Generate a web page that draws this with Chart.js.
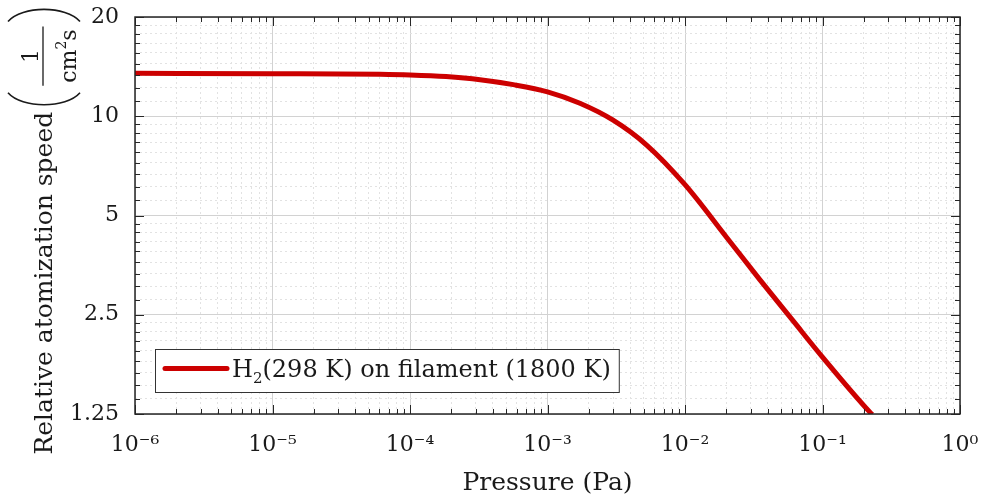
<!DOCTYPE html>
<html>
<head>
<meta charset="utf-8">
<script src="https://cdn.jsdelivr.net/npm/chart.js@4.4.1/dist/chart.umd.min.js"></script>
<style>
  body { margin: 0; background: #fff; }
  #wrap { width: 987px; height: 504px; }
</style>
</head>
<body>
<div id="wrap"><canvas id="c" width="987" height="504"></canvas></div>
<script>
// valori
const pressurePa = [1e-6, 1e-5, 6.05e-5, 1e-4, 1.83e-4, 3.23e-4, 5.64e-4, 1e-3, 1.72e-3, 3.0e-3, 5.26e-3, 1e-2, 2.01e-2, 3.51e-2, 6.14e-2, 1e-1, 0.221, 0.23];
const atomSpeed = [13.5, 13.46, 13.40, 13.34, 13.19, 12.91, 12.47, 11.86, 10.95, 9.73, 8.18, 6.20, 4.29, 3.19, 2.39, 1.86, 1.266, 1.245];

const xMajorTicks = [1e-6, 1e-5, 1e-4, 1e-3, 1e-2, 1e-1, 1];
const xTickLabels = ['10⁻⁶', '10⁻⁵', '10⁻⁴', '10⁻³', '10⁻²', '10⁻¹', '10⁰'];
const yMajorTicks = [1.25, 2.5, 5, 10, 20];
const yTickLabels = ['1.25', '2.5', '5', '10', '20'];

const seriesLabel = ['H', '2', '(298 K) on filament (1800 K)'];
const xTitle = 'Pressure (Pa)';
const yTitle = 'Relative atomization speed';

const FONT = '"DejaVu Serif", "Liberation Serif", serif';
const INK = '#1a1a1a';

// tacche minori: 2..9 per decade sull'asse x, 8 suddivisioni per ottava sull'asse y
const xMinorTicks = [];
for (let k = -6; k < 0; k++) {
    for (let m = 2; m <= 9; m++) xMinorTicks.push(m * Math.pow(10, k));
}
const yMinorTicks = [];
yMajorTicks.slice(0, -1).forEach(b => {
    for (let j = 1; j <= 8; j++) yMinorTicks.push(b * (1 + j / 9));
});

const setTicks = values => axis => { axis.ticks = values.map(v => ({ value: v })); };

// dimensione fissa dell'asse, senza padding extra per le etichette
const fixSize = (prop, size) => s => {
    s[prop] = size;
    s.paddingTop = 0; s.paddingBottom = 0; s.paddingLeft = 0; s.paddingRight = 0;
};

// cornice, tacche interne, legenda e titolo y
const framePlugin = {
    id: 'matlabFrame',
    afterDraw(chart) {
        const { ctx, chartArea: a, scales } = chart;
        ctx.save();
        ctx.strokeStyle = '#262626';
        ctx.lineWidth = 1;
        const line = (x1, y1, x2, y2) => { ctx.beginPath(); ctx.moveTo(x1, y1); ctx.lineTo(x2, y2); ctx.stroke(); };
        const inward = (scale, len, horiz) => {
            scale.ticks.forEach(t => {
                const p = Math.round(scale.getPixelForValue(t.value)) + 0.5;
                if (horiz) {
                    line(p, a.bottom, p, a.bottom - len);
                    line(p, a.top, p, a.top + len);
                } else {
                    line(a.left, p, a.left + len, p);
                    line(a.right, p, a.right - len, p);
                }
            });
        };
        inward(scales.x, 9, true);
        inward(scales.xm, 5, true);
        inward(scales.y, 9, false);
        inward(scales.ym, 5, false);
        ctx.lineWidth = 1.5;
        ctx.strokeRect(a.left, a.top, a.right - a.left, a.bottom - a.top);

        // legenda
        const big = '24px ' + FONT, small = '15px ' + FONT;
        ctx.font = big;
        const wH = ctx.measureText(seriesLabel[0]).width;
        const wRest = ctx.measureText(seriesLabel[2]).width;
        ctx.font = small;
        const wSub = ctx.measureText(seriesLabel[1]).width;
        const lx = a.left + 20, ly = a.bottom - 65, lh = 43;
        const lw = 77 + wH + wSub + wRest + 8;
        ctx.fillStyle = '#fff';
        ctx.fillRect(lx, ly, lw, lh);
        ctx.strokeStyle = '#333';
        ctx.lineWidth = 1;
        ctx.strokeRect(lx + 0.5, ly + 0.5, lw, lh);
        ctx.strokeStyle = chart.data.datasets[0].borderColor;
        ctx.lineWidth = 5;
        ctx.lineCap = 'round';
        line(lx + 10, ly + 19.5, lx + 72, ly + 19.5);
        ctx.lineCap = 'butt';
        ctx.fillStyle = INK;
        ctx.textBaseline = 'alphabetic';
        let tx = lx + 77;
        const base = ly + 28;
        ctx.font = big; ctx.fillText(seriesLabel[0], tx, base); tx += wH;
        ctx.font = small; ctx.fillText(seriesLabel[1], tx, base + 6); tx += wSub;
        ctx.font = big; ctx.fillText(seriesLabel[2], tx, base);

        // titolo asse y con frazione 1/(cm^2 s)
        ctx.font = '25px ' + FONT;
        const w = ctx.measureText(yTitle).width;
        const fr = '22px ' + FONT, sup = '14px ' + FONT;
        ctx.font = fr;
        const wcm = ctx.measureText('cm').width, ws = ctx.measureText('s').width;
        ctx.font = sup;
        const w2 = ctx.measureText('2').width;
        const dw = wcm + w2 + ws;
        const barW = dw + 6;
        const total = w + 6 + 20 + barW + 18;
        ctx.translate(52, 231.5 + total / 2);
        ctx.rotate(-Math.PI / 2);
        ctx.font = '25px ' + FONT;
        ctx.fillText(yTitle, 0, 0);
        const u0 = w + 6;
        ctx.strokeStyle = INK;
        ctx.lineWidth = 1.6;
        ctx.beginPath();
        ctx.moveTo(u0 + 13, -44);
        ctx.bezierCurveTo(u0 - 3, -30, u0 - 3, 14, u0 + 13, 28);
        ctx.stroke();
        const fracL = u0 + 20;
        ctx.lineWidth = 1.3;
        line(fracL, -9, fracL + barW, -9);
        const c = fracL + barW / 2;
        ctx.font = fr;
        ctx.textAlign = 'center';
        ctx.fillText('1', c, -14);
        ctx.textAlign = 'left';
        let dx = c - dw / 2;
        ctx.fillText('cm', dx, 24); dx += wcm;
        ctx.font = sup; ctx.fillText('2', dx, 14); dx += w2;
        ctx.font = fr; ctx.fillText('s', dx, 24);
        const ur = fracL + barW + 5;
        ctx.lineWidth = 1.6;
        ctx.beginPath();
        ctx.moveTo(ur, -44);
        ctx.bezierCurveTo(ur + 16, -30, ur + 16, 14, ur, 28);
        ctx.stroke();
        ctx.restore();
    }
};

new Chart(document.getElementById('c'), {
    type: 'line',
    data: {
        datasets: [{
            label: seriesLabel.join(''),
            data: pressurePa.map((p, i) => ({ x: p, y: atomSpeed[i] })),
            borderColor: '#cc0000',
            borderWidth: 5,
            pointRadius: 0,
            fill: false,
            cubicInterpolationMode: 'monotone'
        }]
    },
    options: {
        responsive: false,
        devicePixelRatio: 1,
        animation: false,
        layout: { padding: { top: 17, right: 27, left: 0, bottom: 0 } },
        plugins: { legend: { display: false }, tooltip: { enabled: false } },
        scales: {
            x: {
                type: 'logarithmic',
                position: 'bottom',
                min: 1e-6, max: 1,
                afterBuildTicks: setTicks(xMajorTicks),
                afterFit: fixSize('height', 90),
                grid: { color: '#d2d2d2', lineWidth: 1, drawTicks: false },
                border: { display: false },
                ticks: {
                    autoSkip: false, maxRotation: 0, padding: 18, color: INK,
                    font: { family: FONT, size: 22 },
                    callback: (v, i) => xTickLabels[i]
                },
                title: {
                    display: true, text: xTitle, color: INK,
                    font: { family: FONT, size: 25 },
                    padding: { top: 0, bottom: 6 }
                }
            },
            xm: {
                type: 'logarithmic',
                position: 'top',
                min: 1e-6, max: 1,
                afterBuildTicks: setTicks(xMinorTicks),
                afterFit: fixSize('height', 0),
                grid: { color: '#e2e2e2', lineWidth: 1, drawTicks: false },
                border: { display: false, dash: [2, 3] },
                ticks: { display: false }
            },
            y: {
                type: 'logarithmic',
                position: 'left',
                min: 1.25, max: 20,
                afterBuildTicks: setTicks(yMajorTicks),
                afterFit: fixSize('width', 135),
                grid: { color: '#d2d2d2', lineWidth: 1, drawTicks: false },
                border: { display: false },
                ticks: {
                    autoSkip: false, padding: 16, color: INK,
                    font: { family: FONT, size: 22 },
                    callback: (v, i) => yTickLabels[i]
                }
            },
            ym: {
                type: 'logarithmic',
                position: 'right',
                min: 1.25, max: 20,
                afterBuildTicks: setTicks(yMinorTicks),
                afterFit: fixSize('width', 0),
                grid: { color: '#e2e2e2', lineWidth: 1, drawTicks: false },
                border: { display: false, dash: [2, 3] },
                ticks: { display: false }
            }
        }
    },
    plugins: [framePlugin]
});
</script>
</body>
</html>
